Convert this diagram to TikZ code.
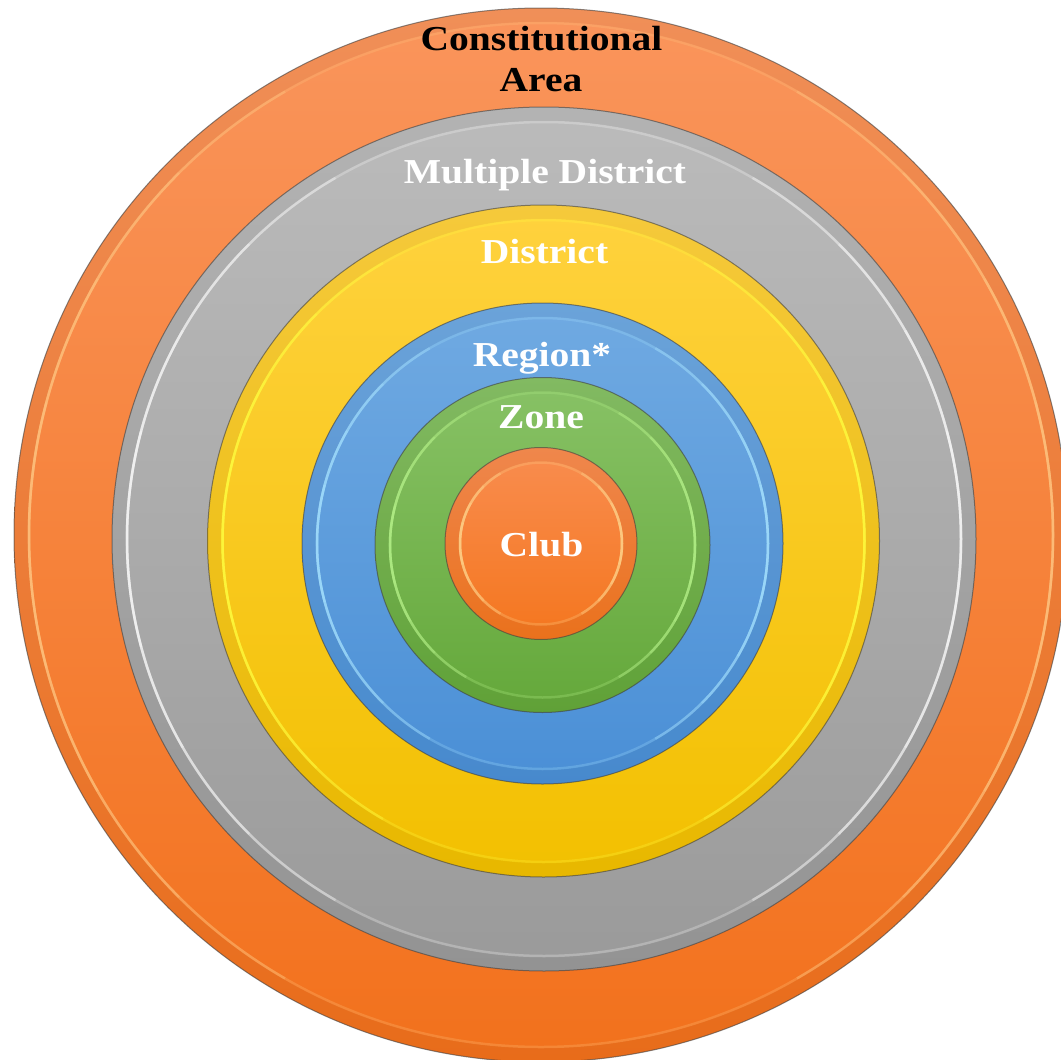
\documentclass[tikz,border=0pt]{standalone}
\usepackage{fontspec}
\newfontfamily\lblfont[FakeStretch=1.13]{Liberation Serif}
\definecolor{orTop}{HTML}{FA955C}
\definecolor{orBot}{HTML}{F2711C}
\definecolor{orHi}{HTML}{FFC884}
\definecolor{grTop}{HTML}{BBBBBB}
\definecolor{grBot}{HTML}{9A9A9A}
\definecolor{grHi}{HTML}{FFFFFF}
\definecolor{yeTop}{HTML}{FFD23E}
\definecolor{yeBot}{HTML}{F2C000}
\definecolor{yeHi}{HTML}{FFFF40}
\definecolor{blTop}{HTML}{70AAE2}
\definecolor{blBot}{HTML}{4A8FD6}
\definecolor{blHi}{HTML}{A8E4FF}
\definecolor{gnTop}{HTML}{88C266}
\definecolor{gnBot}{HTML}{64A83A}
\definecolor{gnHi}{HTML}{B8F48C}
\definecolor{clTop}{HTML}{F98D50}
\definecolor{clBot}{HTML}{F4761E}
\definecolor{clHi}{HTML}{FFD890}
\newcommand\hiarc[5]{% cx cy r halfangle colour
  \draw[#5, opacity=0.3, line width=2.5] (#1,#2) ++(180-#4:#3) arc[start angle=180-#4, end angle=180+#4, radius=#3];
  \draw[#5, opacity=0.3, line width=2.5] (#1,#2) ++(-#4:#3) arc[start angle=-#4, end angle=#4, radius=#3];
}
\newcommand\discring[6]{%
  \shade[top color=#4, bottom color=#5] (#1,#2) circle[radius=#3];
  \draw[black, opacity=0.04, line width=14] (#1,#2) circle[radius=#3-7];
  \draw[#6, opacity=0.25, line width=2.5] (#1,#2) circle[radius=#3-15];
  \hiarc{#1}{#2}{#3-15}{60}{#6}
  \hiarc{#1}{#2}{#3-15}{45}{#6}
  \hiarc{#1}{#2}{#3-15}{30}{#6}
  \hiarc{#1}{#2}{#3-15}{15}{#6}
  \draw[black!75, opacity=0.6, line width=1] (#1,#2) circle[radius=#3];
}
\tikzset{
  lbl/.style={font=\lblfont\bfseries\fontsize{35}{41}\selectfont, text=white, anchor=base, inner sep=0pt},
  lbldark/.style={lbl, text=black}
}
\begin{document}
\begin{tikzpicture}[x=1pt, y=-1pt]
  \useasboundingbox (0,0) rectangle (1061,1060);
  \clip (0,0) rectangle (1061,1060);
  \fill[white] (0,0) rectangle (1061,1060);
  \discring{541}{535}{527}{orTop}{orBot}{orHi}
  \discring{544}{539}{432}{grTop}{grBot}{grHi}
  \discring{543.5}{541}{336}{yeTop}{yeBot}{yeHi}
  \discring{542.5}{543.5}{240.5}{blTop}{blBot}{blHi}
  \discring{542.5}{545}{167.5}{gnTop}{gnBot}{gnHi}
  \discring{541}{543.5}{96}{clTop}{clBot}{clHi}
  \node[lbldark] (ca1) at (541.5,50) {Constitutional};
  \node[lbldark] (ca2) at (541,91) {Area};
  \node[lbl] (md) at (545,183) {Multiple District};
  \node[lbl] (di) at (544.5,263) {District};
  \node[lbl] (re) at (542,366) {Region*};
  \node[lbl] (zo) at (541,428) {Zone};
  \node[lbl] (cl) at (541.5,556) {Club};
\end{tikzpicture}
\end{document}
